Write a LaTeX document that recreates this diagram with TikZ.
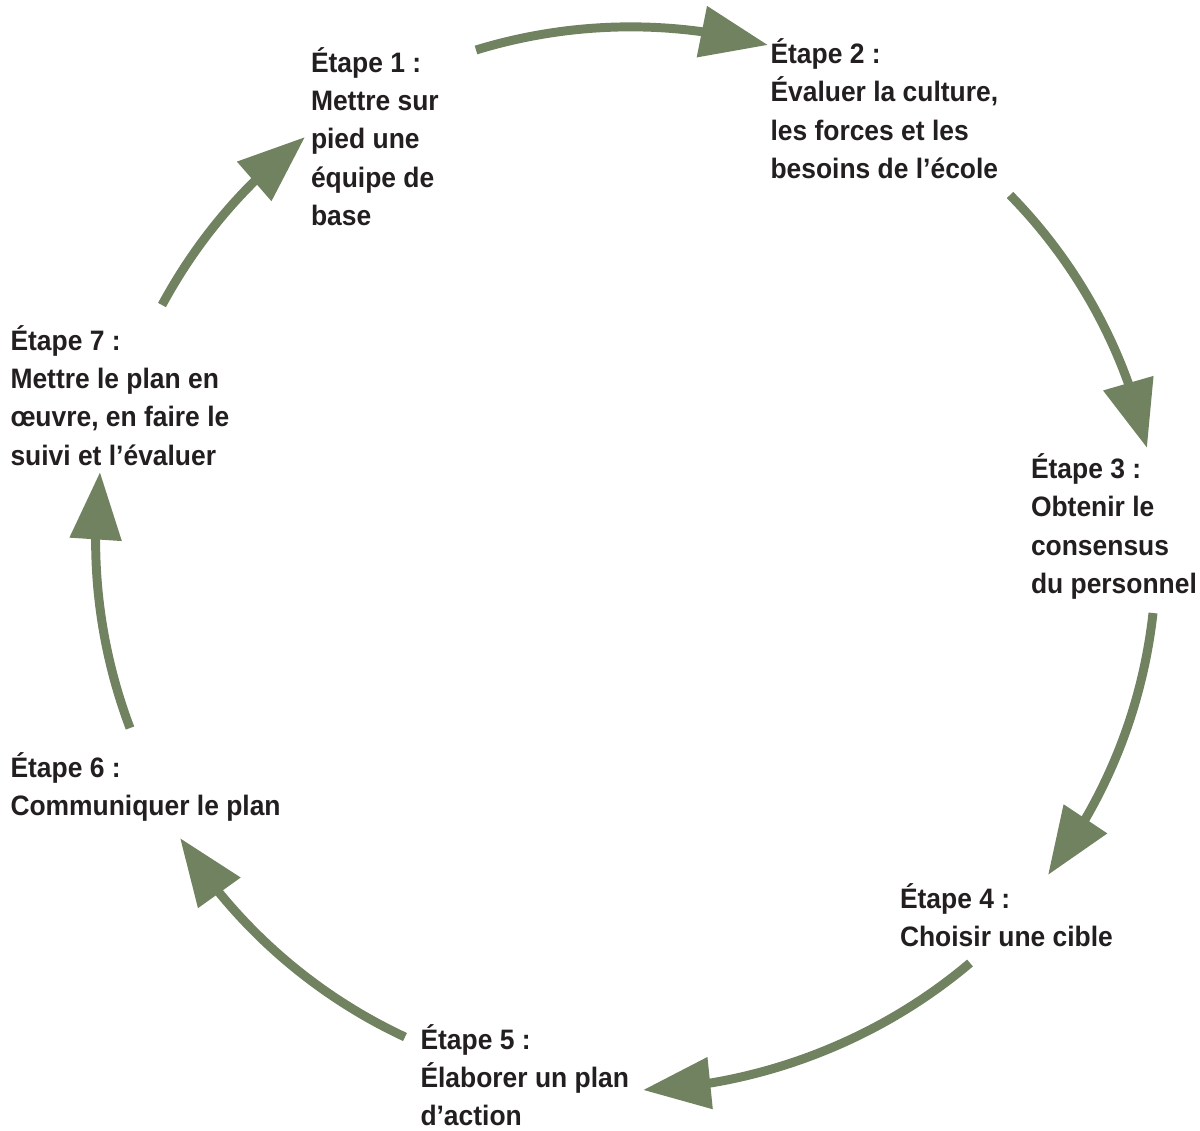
\documentclass[tikz,border=0pt]{standalone}
\usepackage{fontspec}
\newfontfamily\etapefont{Liberation Sans}[FakeStretch=0.94]
\usetikzlibrary{arrows.meta,bending}
\definecolor{vertfleche}{RGB}{112,130,96}
\definecolor{texteetape}{RGB}{35,31,32}
\newcommand{\titreetape}[1]{\rule{0pt}{16pt}Étape~#1~:}

\begin{document}
\begin{tikzpicture}[x=0.02cm, y=-0.02cm,
  etape/.style={anchor=north west, inner sep=0pt, outer sep=0pt, align=left, text=texteetape, font=\etapefont\bfseries\fontsize{16}{21.9}\selectfont},
  fleche/.style={draw=vertfleche, line width=5.1pt, -{Triangle[length=1.35cm, width=1cm]}, looseness=0.87}]
  \useasboundingbox (0,0) rectangle (1200,1130);

  \node[etape] (etape1) at (311,43.9) {\titreetape{1}\\Mettre sur\\pied une\\équipe de\\base};
  \node[etape] (etape2) at (770.5,35.2) {\titreetape{2}\\Évaluer la culture,\\les forces et les\\besoins de l’école};
  \node[etape] (etape3) at (1031,450.2) {\titreetape{3}\\Obtenir le\\consensus\\du personnel};
  \node[etape] (etape4) at (900,879.9) {\titreetape{4}\\Choisir une cible};
  \node[etape] (etape5) at (420.5,1020.9) {\titreetape{5}\\Élaborer un plan\\d’action};
  \node[etape] (etape6) at (10.5,748.9) {\titreetape{6}\\Communiquer le plan};
  \node[etape] (etape7) at (10.5,321.9) {\titreetape{7}\\Mettre le plan en\\œuvre, en faire le\\suivi et l’évaluer};

  % bouts des fleches sur le cercle
  \coordinate (d1) at (476,50);   \coordinate (f1) at (768,45);
  \coordinate (d2) at (1010,195); \coordinate (f2) at (1147,448);
  \coordinate (d3) at (1153,613); \coordinate (f3) at (1048,875);
  \coordinate (d4) at (970,963);  \coordinate (f4) at (643,1090);
  \coordinate (d5) at (405,1037); \coordinate (f5) at (180,838);
  \coordinate (d6) at (130,728);  \coordinate (f6) at (100,472);
  \coordinate (d7) at (162,305);  \coordinate (f7) at (305,137);

  \draw[fleche] (d1) to[bend left=16] (f1);
  \draw[fleche] (d2) to[bend left=16] (f2);
  \draw[fleche] (d3) to[bend left=15.5] (f3);
  \draw[fleche] (d4) to[bend left=19] (f4);
  \draw[fleche] (d5) to[bend left=16.5] (f5);
  \draw[fleche] (d6) to[bend left=14] (f6);
  \draw[fleche] (d7) to[bend left=12] (f7);

\end{tikzpicture}
\end{document}
